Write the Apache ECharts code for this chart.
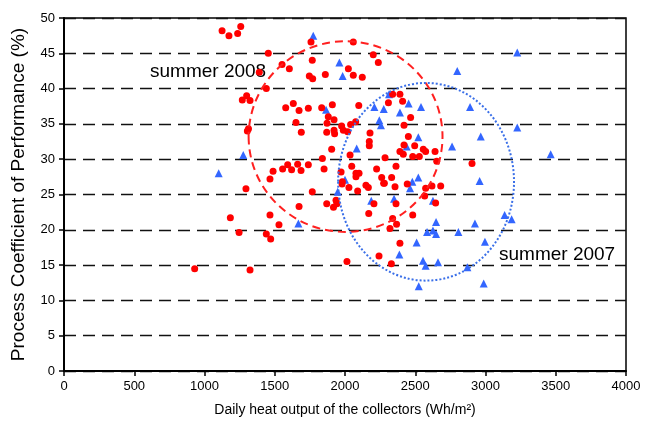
<!DOCTYPE html>
<html>
<head>
<meta charset="utf-8">
<script src="https://cdn.jsdelivr.net/npm/echarts@6/dist/echarts.min.js"></script>
<style>
  html, body { margin: 0; padding: 0; background: #fff; }
  #chart { width: 647px; height: 433px; }
</style>
</head>
<body>
<div id="chart"></div>
<script>
// Daily heat output (Wh/m²) vs process COP (%), summer 2008
const summer2008X = [
  1125, 1174, 1236, 1258, 1269, 1300, 1324, 1313, 1305, 1295,
  1184, 1246, 930, 1324, 1440, 1578, 1454, 1552, 1604, 1390,
  1488, 1556, 1592, 1466, 1466, 1530, 1440, 1471, 1767, 1673,
  1870, 1918, 1942, 1936, 1979, 2028, 2090, 2149, 2166, 2275,
  2356, 2443, 2574, 2619, 2681, 2206, 2363, 2567, 2645, 2169,
  2482, 2339, 2367, 2320, 2391, 2242, 2330, 2014, 2904, 2339,
  2391, 2410, 2467, 2420, 2451, 2420, 2496, 2391, 2415, 2557,
  2574, 2641, 2482, 2529, 2653, 2363, 2332, 1632, 1673, 1739,
  1910, 1881, 1922, 1872, 1651, 1689, 1870, 1922, 1926, 1976,
  1988, 2019, 2040, 2076, 2098, 2309, 2178, 2173, 2173, 1905,
  2285, 1839, 1663, 1739, 1620, 1687, 1851, 2048, 2225, 1972,
  2078, 2100, 2078, 1981, 2261, 2280, 1758, 2059, 2201, 2237,
  1767, 2024, 2059, 2123, 1860, 1746, 1770, 1834, 2036
];
const summer2008Y = [
  48.2, 47.5, 47.8, 48.8, 38.4, 39.0, 38.3, 34.3, 34.0, 25.8,
  21.7, 19.6, 14.5, 14.3, 40.0, 37.3, 45.0, 43.4, 42.8, 42.3,
  28.3, 28.6, 29.2, 27.2, 22.1, 20.7, 19.4, 18.7, 25.4, 23.3,
  23.7, 23.2, 23.7, 24.2, 26.5, 26.0, 25.5, 26.3, 26.0, 26.6,
  26.1, 26.5, 25.9, 26.2, 26.2, 23.7, 23.7, 24.8, 23.8, 22.3,
  22.1, 21.6, 20.8, 20.2, 18.1, 16.3, 15.2, 15.5, 29.4, 39.2,
  39.2, 38.2, 35.9, 34.8, 33.2, 32.0, 31.9, 31.1, 30.7, 31.4,
  31.1, 31.1, 30.4, 30.4, 29.7, 29.0, 27.4, 37.9, 36.9, 37.2,
  37.7, 36.0, 35.6, 35.1, 35.2, 33.8, 33.8, 34.1, 33.6, 34.7,
  34.1, 33.9, 34.9, 35.3, 37.6, 38.0, 33.7, 32.5, 31.9, 31.4,
  30.2, 30.1, 29.3, 29.2, 28.5, 28.4, 28.6, 29.0, 28.6, 28.2,
  28.0, 28.0, 27.5, 26.8, 27.4, 26.6, 46.6, 46.6, 44.8, 43.7,
  44.0, 42.8, 41.9, 41.6, 42.0, 41.8, 41.4, 37.3, 30.6
];

// Summer 2007
const summer2007X = [
  1276, 1101, 1668, 1948, 2000, 2479, 2463, 2187, 2349, 2626,
  2648, 2584, 2626, 2648, 2510, 2387, 2555, 2574, 2662, 2525,
  2958, 3136, 3186, 2925, 2807, 2996, 2871, 2987, 3226, 2799,
  2890, 3226, 2966, 2762, 3464, 2453, 2541, 2391, 2522, 2439,
  2522, 1865, 2209, 2276, 2244, 2256, 2083, 1774, 1960, 1983,
  2313
];
const summer2007Y = [
  30.6, 28.0, 20.9, 25.4, 27.1, 26.8, 25.9, 24.1, 24.4, 24.1,
  21.1, 19.7, 19.9, 19.4, 18.2, 16.5, 15.6, 14.9, 15.4, 12.0,
  26.9, 22.1, 21.5, 20.9, 19.7, 18.3, 14.7, 12.4, 45.1, 42.5,
  37.4, 34.5, 33.2, 31.8, 30.7, 37.9, 37.4, 36.6, 33.1, 31.8,
  27.4, 37.0, 37.4, 37.1, 35.5, 34.8, 31.5, 47.5, 43.7, 41.8,
  39.2
];

// Cluster outlines: [centre x, centre y, half-width, half-height] in data units
const cluster2008 = [2004, 33.2, 690, 13.5];
const cluster2007 = [2577, 26.8, 626, 14.0];

const xTicks = [0, 500, 1000, 1500, 2000, 2500, 3000, 3500, 4000];
const yTicks = [0, 5, 10, 15, 20, 25, 30, 35, 40, 45, 50];

const FONT = '"Liberation Sans", Arial, sans-serif';

function zip(xs, ys) { return xs.map((x, i) => [x, ys[i]]); }

// Ellipse drawn through the axes: centre via api.coord, radii via api.size
function ellipseRenderer(color, dash) {
  return function (params, api) {
    const c = api.coord([api.value(0), api.value(1)]);
    const s = api.size([api.value(2), api.value(3)]);
    const rx = s[0], ry = s[1];
    const d = 'M' + (c[0] - rx) + ' ' + c[1] +
      ' A' + rx + ' ' + ry + ' 0 1 0 ' + (c[0] + rx) + ' ' + c[1] +
      ' A' + rx + ' ' + ry + ' 0 1 0 ' + (c[0] - rx) + ' ' + c[1] + ' Z';
    return {
      type: 'path',
      shape: { pathData: d },
      style: { fill: null, stroke: color, lineWidth: 2, lineDash: dash }
    };
  };
}

const chart = echarts.init(document.getElementById('chart'), null, { renderer: 'canvas' });
chart.setOption({
  animation: false,
  backgroundColor: '#fff',
  grid: { left: 64, right: 21, top: 18, bottom: 62, show: true, borderColor: '#000', borderWidth: 1.5 },
  xAxis: {
    type: 'value', min: xTicks[0], max: xTicks[xTicks.length - 1], interval: 500,
    name: 'Daily heat output of the collectors (Wh/m²)',
    nameLocation: 'middle', nameGap: 32,
    nameTextStyle: { fontFamily: FONT, fontSize: 14, color: '#000' },
    axisLine: { show: true, lineStyle: { color: '#000', width: 2 } },
    axisTick: { show: true, inside: false, length: 5, lineStyle: { color: '#000', width: 1.5 } },
    axisLabel: { fontFamily: FONT, fontSize: 13, color: '#000', margin: 9, formatter: v => String(v) },
    splitLine: { show: false }
  },
  yAxis: {
    type: 'value', min: yTicks[0], max: yTicks[yTicks.length - 1], interval: 5,
    name: 'Process Coefficient of Performance (%)',
    nameLocation: 'middle', nameGap: 36, nameRotate: 90,
    nameTextStyle: { fontFamily: FONT, fontSize: 19, color: '#000' },
    axisLine: { show: true, lineStyle: { color: '#000', width: 2 } },
    axisTick: { show: true, inside: false, length: 5, lineStyle: { color: '#000', width: 1.5 } },
    axisLabel: { fontFamily: FONT, fontSize: 13, color: '#000', margin: 9, formatter: v => String(v) },
    splitLine: { show: true, lineStyle: { color: '#111', width: 1.3, type: [12, 7] } }
  },
  series: [
    {
      name: 'summer 2007', type: 'scatter', symbol: 'triangle', symbolSize: 8,
      itemStyle: { color: '#3366ff', opacity: 1 },
      data: zip(summer2007X, summer2007Y), z: 3
    },
    {
      name: 'summer 2008', type: 'scatter', symbol: 'circle', symbolSize: 7,
      itemStyle: { color: '#ff0000', opacity: 1 },
      data: zip(summer2008X, summer2008Y), z: 4
    },
    {
      type: 'custom', renderItem: ellipseRenderer('#ff2020', [8, 5]),
      data: [cluster2008], z: 5, silent: true
    },
    {
      type: 'custom', renderItem: ellipseRenderer('#3a6fe8', [2, 2]),
      data: [cluster2007], z: 5, silent: true
    }
  ],
  graphic: [
    { type: 'text', left: 150, top: 62, style: { text: 'summer 2008', font: '19px ' + FONT, fill: '#000' } },
    { type: 'text', left: 499, top: 245, style: { text: 'summer 2007', font: '19px ' + FONT, fill: '#000' } }
  ]
});
</script>
</body>
</html>
